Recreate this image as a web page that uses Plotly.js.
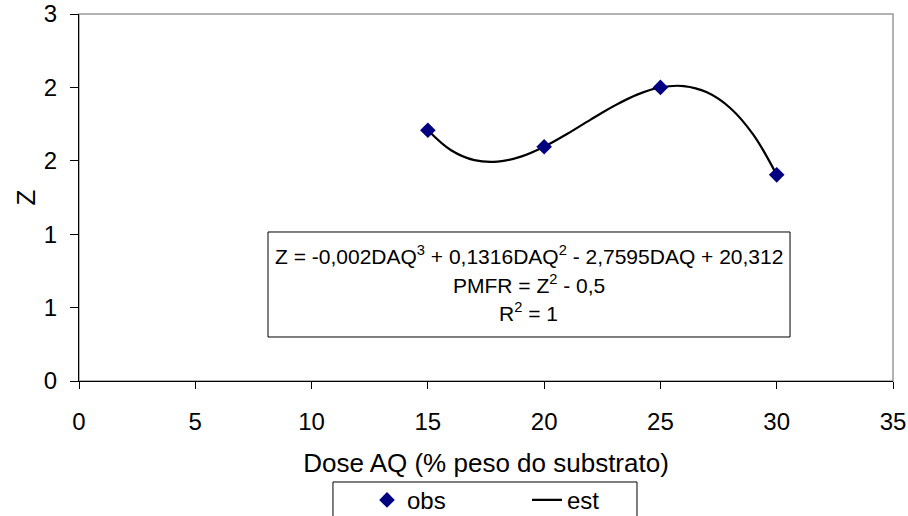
<!DOCTYPE html>
<html>
<head>
<meta charset="utf-8">
<script src="https://cdn.plot.ly/plotly-3.0.1.min.js"></script>
<style>html,body{margin:0;padding:0;background:#fff;}#chart{width:908px;height:516px;}</style>
</head>
<body>
<div id="chart"></div>
<script>
// Observed points
const obsX = [15, 20, 25, 30];
const obsZ = [2.05, 1.915, 2.40, 1.685];
// Estimated curve
const estX = [15, 16, 17, 18, 19, 20, 21, 22, 23, 24, 25, 26, 27, 28, 29, 30];
const estZ = [2.05, 1.886, 1.805, 1.793, 1.834, 1.915, 2.021, 2.137, 2.248, 2.341, 2.40, 2.411, 2.360, 2.232, 2.012, 1.685];
// Axis ticks
const yTickVals = [0, 0.6, 1.2, 1.8, 2.4, 3.0];
const yTickText = ["0", "1", "1", "2", "2", "3"];
const xTickVals = [0, 5, 10, 15, 20, 25, 30, 35];
// Equation box lines
const eqLines = [
  "Z = -0,002DAQ<sup>3</sup> + 0,1316DAQ<sup>2</sup> - 2,7595DAQ + 20,312",
  "PMFR = Z<sup>2</sup> - 0,5",
  "R<sup>2</sup> = 1"
];

const FONT = "Liberation Sans, Arial, sans-serif";

const traces = [
  {
    x: estX, y: estZ, name: "est", type: "scatter", mode: "lines",
    line: {color: "#000000", width: 2.2, shape: "spline"},
    legendrank: 2, cliponaxis: false
  },
  {
    x: obsX, y: obsZ, name: "obs", type: "scatter", mode: "markers",
    marker: {symbol: "diamond", color: "#000080", size: 12},
    legendrank: 1, cliponaxis: false
  }
];

const eqY = [0.3433, 0.2650, 0.1870];
const annotations = eqLines.map((t, i) => ({
  xref: "paper", yref: "paper", x: 0.5528, y: eqY[i],
  xanchor: "center", yanchor: "middle", showarrow: false,
  text: t, font: {family: FONT, size: 21, color: "#000"}
}));

const layout = {
  width: 908, height: 516,
  margin: {l: 79, r: 15, t: 14, b: 135, autoexpand: false},
  paper_bgcolor: "#fff", plot_bgcolor: "#fff",
  font: {family: FONT, size: 24, color: "#000"},
  showlegend: true,
  legend: {
    orientation: "h", x: 0.3538, xanchor: "left",
    yref: "container", y: 0.074, yanchor: "top",
    borderwidth: 0, bgcolor: "rgba(0,0,0,0)",
    font: {family: FONT, size: 24, color: "#000"},
    entrywidth: 115, itemwidth: 30
  },
  xaxis: {
    range: [0, 35], tickvals: xTickVals, ticks: "outside", ticklen: 7,
    tickcolor: "#000", showline: true, linecolor: "#000", linewidth: 1,
    showgrid: false, zeroline: false, ticklabelstandoff: 12,
    tickfont: {family: FONT, size: 24},
    title: {text: "Dose AQ (% peso do substrato)", font: {family: FONT, size: 26}, standoff: 22}
  },
  yaxis: {
    range: [0, 3], tickvals: yTickVals, ticktext: yTickText, ticks: "outside", ticklen: 8,
    tickcolor: "#000", showline: true, linecolor: "#000", linewidth: 1,
    showgrid: false, zeroline: false, ticklabelstandoff: 8,
    tickfont: {family: FONT, size: 24},
    title: {text: "Z", font: {family: FONT, size: 26}, standoff: 0}
  },
  shapes: [
    {type: "rect", xref: "paper", yref: "paper", x0: 0, x1: 1, y0: 0, y1: 1,
     line: {color: "#999999", width: 1.5}, layer: "below"},
    {type: "rect", xref: "paper", yref: "paper", x0: 0.2322, x1: 0.8735, y0: 0.1199, y1: 0.406,
     line: {color: "#000", width: 1}, fillcolor: "rgba(0,0,0,0)", layer: "above"},
    {type: "rect", xref: "paper", yref: "paper", x0: 0.312, x1: 0.6855, y0: -0.41, y1: -0.2752,
     line: {color: "#000", width: 1}, fillcolor: "rgba(0,0,0,0)", layer: "above"}
  ],
  annotations: annotations
};

Plotly.newPlot("chart", traces, layout, {displayModeBar: false, staticPlot: true});
</script>
</body>
</html>
